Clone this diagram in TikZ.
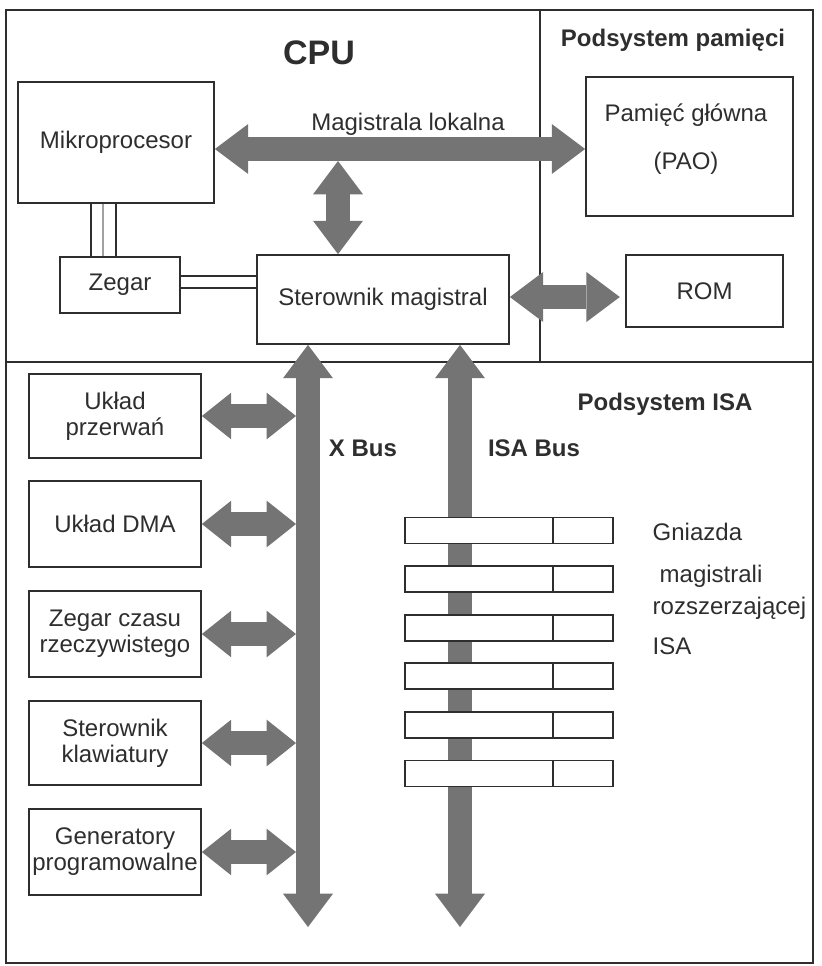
\documentclass[tikz,border=0pt]{standalone}
\usepackage{fontspec}
\setmainfont{Liberation Sans}
\usetikzlibrary{arrows.meta}
\definecolor{ink}{HTML}{2E2E2E}
\definecolor{busgray}{HTML}{747474}
\begin{document}
\begin{tikzpicture}[x=0.75pt,y=-0.75pt,
  every node/.style={text=ink,font=\fontsize{18}{19.5}\selectfont},
  sz/.style 2 args={minimum width=#1*0.75pt,minimum height=#2*0.75pt},
  box/.style={draw=ink,line width=1.3pt,fill=white,inner sep=0pt,align=center},
  slotbox/.style={draw=ink,line width=1.3pt,fill=white,inner sep=0pt,sz={208}{26}},
  frame/.style={draw=ink,line width=1.3pt},
  wire/.style={draw=ink,line width=1pt},
  faintwire/.style={draw=ink!45,line width=1pt},
  head/.style={font=\fontsize{18}{20}\selectfont\bfseries},
  bus/.style={busgray,line width=18pt,{Triangle[length=25pt,width=37.5pt,line width=0pt]}-{Triangle[length=25pt,width=37.5pt,line width=0pt]}},
  sbus/.style={busgray,line width=18pt,{Triangle[length=22pt,width=35pt,line width=0pt]}-{Triangle[length=22pt,width=35pt,line width=0pt]}}]

\useasboundingbox (0,0) rectangle (821,966);

% outer frame and subsystem dividers
\draw[frame] (6,10) rectangle (813,963);
\draw[frame] (6,362) -- (813,362);
\draw[frame] (540,10) -- (540,362);

% titles
\node[font=\fontsize{25.5}{28}\selectfont\bfseries] (cpu) at (319,53) {CPU};
\node[head] (pamsys) at (673,40) {Podsystem pamięci};
\node[head] (isasys) at (665,404) {Podsystem ISA};

% CPU subsystem
\node[box, sz={196}{121}] (mp) at (116,142.5) {Mikroprocesor};
\node[box, sz={120}{56}] (zg) at (120,285) {Zegar};
\node[box, sz={252}{89}] (sm) at (383,299.5) {\raisebox{4.5pt}{Sterownik magistral}};

% memory subsystem
\node[box, sz={207}{139}] (pam) at (689.5,146.5) {};
\node[align=center] (pamtxt) at (686,139) {Pamięć główna\\[16.5pt](PAO)};
\node[box, sz={157}{72}] (rom) at (704.5,291) {ROM};

% clock wiring
\coordinate (w1) at (91,0);
\coordinate (w2) at (103,0);
\coordinate (w3) at (116,0);
\draw[wire] (mp.south -| w1) -- (zg.north -| w1);
\draw[faintwire] (mp.south -| w2) -- (zg.north -| w2);
\draw[wire] (mp.south -| w3) -- (zg.north -| w3);
\coordinate (h1) at (0,276);
\coordinate (h2) at (0,288);
\draw[wire] (zg.east |- h1) -- (sm.west |- h1);
\draw[wire] (zg.east |- h2) -- (sm.west |- h2);

% local bus
\coordinate (lb) at (0,149);
\draw[bus] (mp.east |- lb) -- (pam.west |- lb);
\node (lbl) at (408,124) {Magistrala lokalna};
\coordinate (vb) at (338,161);
\draw[bus] (vb) -- (sm.north -| vb);
\coordinate (rb) at (0,297);
\draw[bus, shorten >=4pt] (sm.east |- rb) -- (rom.west |- rb);

% system buses
\coordinate (xbend) at (308,927);
\coordinate (isaend) at (460,927);
\draw[bus] (sm.south -| xbend) -- (xbend);
\draw[bus] (sm.south -| isaend) -- (isaend);
\node[head] (xlbl) at (363,448) {X Bus};
\node[head] (isalbl) at (534,448) {ISA Bus};

% X bus peripherals
\node[box, sz={172}{84}] (b1) at (115,416) {Układ\\przerwań};
\node[box, sz={172}{86}] (b2) at (115,524) {Układ DMA};
\node[box, sz={172}{86}] (b3) at (115,634) {Zegar czasu\\rzeczywistego};
\node[box, sz={172}{84}] (b4) at (115,743) {Sterownik\\klawiatury};
\node[box, sz={172}{86}] (b5) at (115,852) {Generatory\\programowalne};
\coordinate (xl) at (296,0);
\foreach \b in {b1,b2,b3,b4,b5}
  \draw[sbus] (\b.east) -- (\b.east -| xl);

% ISA expansion slots
\coordinate (sd) at (553,0);
\foreach \i in {0,...,5} {
  \node[slotbox] (s\i) at (509,530.5+48.6*\i) {};
  \draw[wire] (s\i.north -| sd) -- (s\i.south -| sd);
}
\node[anchor=base west] (g1) at (648,540) {Gniazda};
\node[anchor=base west] (g2) at (655,582) {magistrali};
\node[anchor=base west] (g3) at (648,614) {rozszerzającej};
\node[anchor=base west] (g4) at (648,654) {ISA};

\end{tikzpicture}
\end{document}
